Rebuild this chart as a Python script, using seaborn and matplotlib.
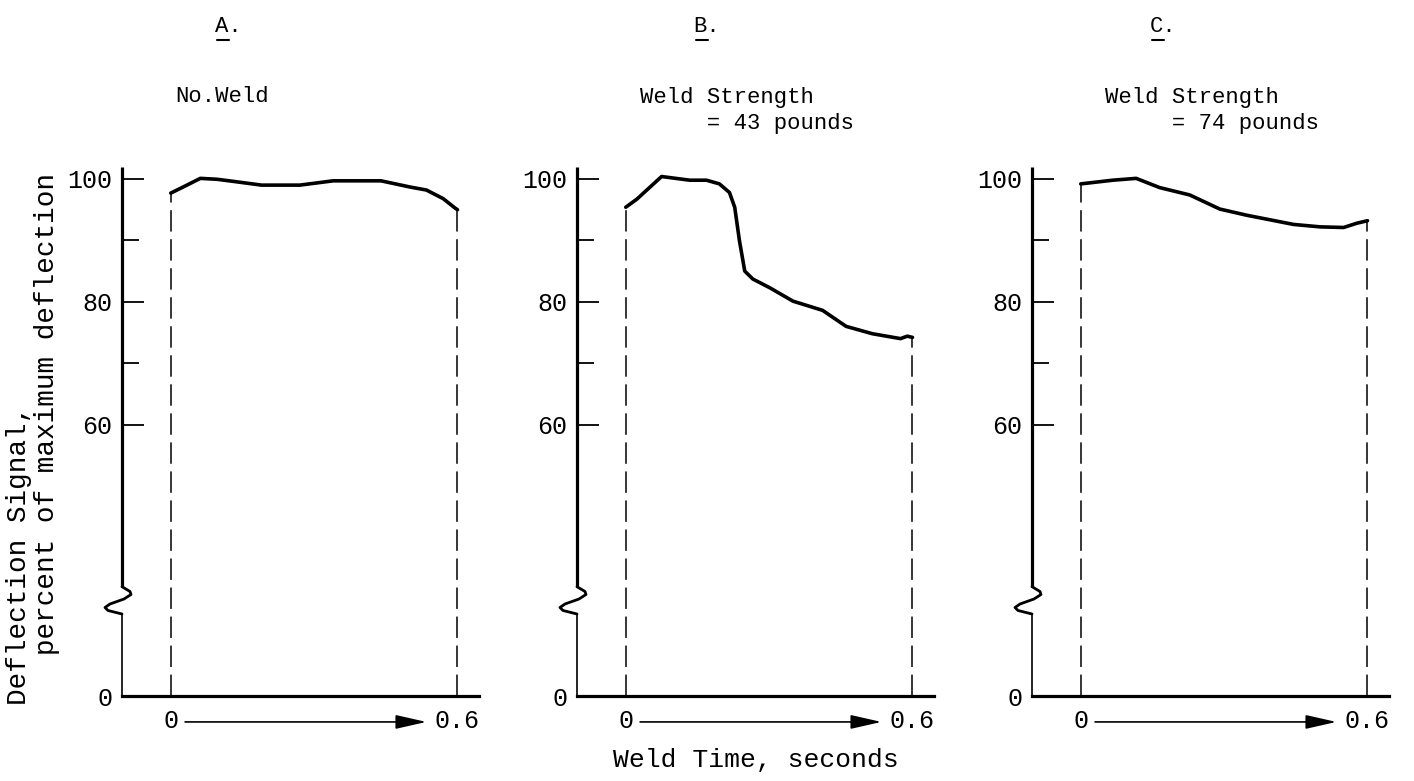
import numpy as np
import pandas as pd
import matplotlib
matplotlib.use("Agg")
import matplotlib.pyplot as plt
import matplotlib.transforms as mtransforms
from matplotlib.lines import Line2D
from matplotlib.patches import ArrowStyle
import seaborn as sns

# ---------------- data ----------------
time_a = [0.0, 0.021, 0.062, 0.097, 0.132, 0.19, 0.27, 0.34, 0.44, 0.50, 0.535, 0.57, 0.596, 0.6]
signal_a = [97.7, 98.5, 100.1, 99.95, 99.6, 99.0, 99.0, 99.7, 99.7, 98.7, 98.2, 96.8, 95.2, 95.0]

time_b = [0.0, 0.023, 0.075, 0.134, 0.169, 0.196, 0.217, 0.228, 0.238, 0.249, 0.266,
          0.301, 0.35, 0.412, 0.461, 0.516, 0.575, 0.589, 0.6]
signal_b = [95.4, 96.7, 100.4, 99.8, 99.8, 99.2, 97.8, 95.4, 89.9, 85.0, 83.7,
            82.3, 80.1, 78.6, 76.0, 74.8, 74.0, 74.4, 74.2]

time_c = [0.0, 0.067, 0.116, 0.165, 0.228, 0.291, 0.347, 0.445, 0.501, 0.55, 0.578, 0.6]
signal_c = [99.2, 99.8, 100.1, 98.6, 97.4, 95.1, 94.1, 92.6, 92.2, 92.1, 92.8, 93.2]

panel_letters = ["A.", "B.", "C."]
panel_titles = ["No.Weld", "Weld Strength\n     = 43 pounds", "Weld Strength\n     = 74 pounds"]
y_major = [0, 60, 80, 100]
y_major_labels = ["0", "60", "80", "100"]
y_minor = [70, 90]
x_ticks = [0, 0.6]
x_tick_labels = ["0", "0.6"]
x_label = "Weld Time, seconds"
y_label = "Deflection Signal,\n   percent of maximum deflection"

# ---------------- style ----------------
sns.set_theme(style="white")
MONO = ["Liberation Mono", "DejaVu Sans Mono"]
plt.rcParams["font.family"] = MONO

W, H = 1414, 781
fig = plt.figure(figsize=(W / 100, H / 100), dpi=100)

# broken y scale: 60..100 linear, 0 pulled up close below
BREAK_U = 15.8
def fwd(v):
    v = np.asarray(v, dtype=float)
    return np.where(v >= 40, v, BREAK_U + v * (40 - BREAK_U) / 40)
def inv(u):
    u = np.asarray(u, dtype=float)
    return np.where(u >= 40, u, (u - BREAK_U) * 40 / (40 - BREAK_U))

panels = [(time_a, signal_a), (time_b, signal_b), (time_c, signal_c)]
lefts = [122, 577, 1032]
ax_w, ax_top, ax_bot = 357, 166.7, 696
XLIM = (-0.102, 0.645)
YLIM = (0, 102)

def px2ax(dx, y):
    return dx / ax_w, 1 - (y - ax_top) / (ax_bot - ax_top)

for i, ((t, s), left) in enumerate(zip(panels, lefts)):
    ax = fig.add_axes([left / W, (H - ax_bot) / H, ax_w / W, (ax_bot - ax_top) / H])
    ax.set_yscale("function", functions=(fwd, inv))
    ax.set_xlim(*XLIM)
    ax.set_ylim(*YLIM)
    df = pd.DataFrame({"time": t, "signal": s})
    sns.lineplot(data=df, x="time", y="signal", ax=ax, color="black", lw=2.6,
                 estimator=None, sort=False)
    # dashed verticals at start and end of weld
    ax.vlines([t[0], t[-1]], 0, [s[0], s[-1]], colors="black", lw=1.1,
              linestyles=(0, (14, 5)))

    for sp in ("left", "top", "right"):
        ax.spines[sp].set_visible(False)
    ax.spines["bottom"].set_linewidth(2.3)
    ax.spines["bottom"].set_color("black")

    # broken y axis drawn by hand
    tr = ax.transAxes
    ax.add_line(Line2D([0, 0], [1, px2ax(0, 586.7)[1]], transform=tr, color="black",
                       lw=2.3, clip_on=False, solid_capstyle="butt"))
    zz = [(0, 586.7), (8, 591.5), (9, 594.5), (2, 599), (-12, 604), (-17, 607.5),
          (-14, 610.5), (-6, 612.5), (0, 614)]
    zx, zy = zip(*[px2ax(dx, y) for dx, y in zz])
    ax.add_line(Line2D(zx, zy, transform=tr, color="black", lw=2.0, clip_on=False))
    ax.add_line(Line2D([0, 0], [px2ax(0, 614)[1], 0], transform=tr, color="black",
                       lw=1.2, clip_on=False))

    ax.set_yticks(y_major, y_major_labels)
    ax.set_yticks(y_minor, minor=True)
    ax.tick_params(axis="y", which="major", direction="in", length=16, width=1.3,
                   color="black", labelsize=18, pad=7, left=True)
    ax.tick_params(axis="y", which="minor", direction="in", length=12, width=1.3,
                   color="black", left=True)
    ax.yaxis.get_major_ticks()[0].tick1line.set_visible(False)
    ax.set_xticks(x_ticks, x_tick_labels)
    ax.tick_params(axis="x", length=0, labelsize=18, pad=9)
    for lab in ax.get_xticklabels() + ax.get_yticklabels():
        lab.set_color("black")
    ax.set_xlabel("")
    ax.set_ylabel("")

    # time arrow between the 0 and 0.6 labels
    bt = mtransforms.blended_transform_factory(ax.transData, ax.transAxes)
    ax.annotate("", xy=(0.535, -0.049), xytext=(0.03, -0.049), xycoords=bt, textcoords=bt,
                arrowprops=dict(arrowstyle=ArrowStyle("-|>", head_length=1.9, head_width=0.43),
                                mutation_scale=10, lw=1.2, color="black",
                                shrinkA=0, shrinkB=0), annotation_clip=False)

# panel headings
letter_x = [228, 707, 1163]
title_x = [222, 640, 1105]
for lx, tx, letter, title, i in zip(letter_x, title_x, panel_letters, panel_titles, range(3)):
    fig.text(lx / W, 1 - 27 / H, letter, ha="center", va="center", fontsize=16, color="black")
    fig.add_artist(Line2D([(lx - 11) / W, (lx + 1) / W], [1 - 40 / H, 1 - 40 / H],
                          color="black", lw=1.5))
    if i == 0:
        fig.text(tx / W, 1 - 97 / H, title, ha="center", va="center", fontsize=16,
                 color="black")
    else:
        fig.text(tx / W, 1 - 87 / H, title, ha="left", va="top", fontsize=16,
                 color="black", linespacing=1.3)

fig.text(756 / W, 1 - 760 / H, x_label, ha="center", va="center", fontsize=19, color="black")
fig.text(33 / W, 1 - 705 / H, y_label, ha="center", va="bottom", rotation=90,
         multialignment="left", fontsize=20, color="black", linespacing=1.1)

fig.savefig("out.png", dpi=100, facecolor="white")
